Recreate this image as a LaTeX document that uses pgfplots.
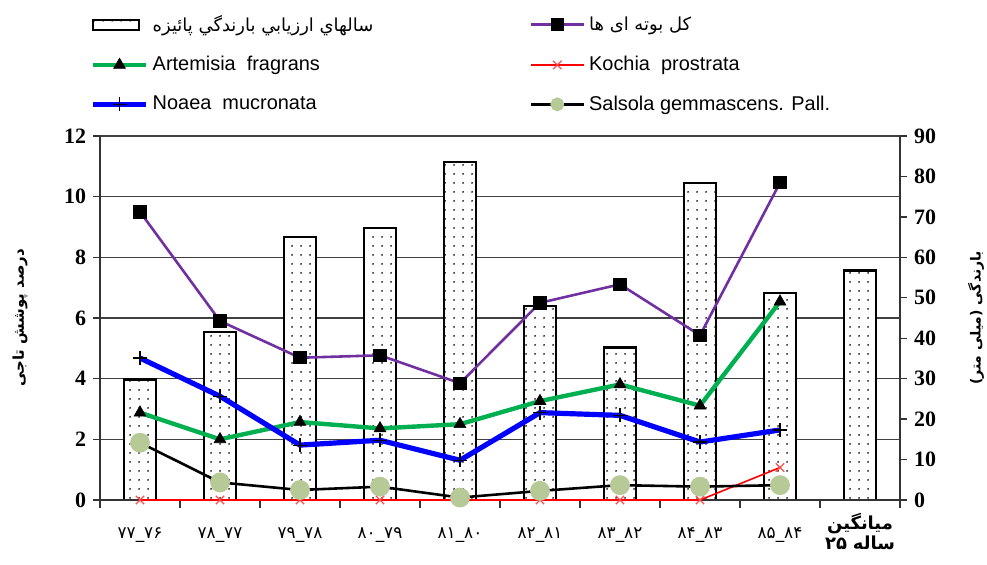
\documentclass[border=0pt]{standalone}
\usepackage{fontspec}
\setmainfont{Liberation Serif}
\setsansfont{Liberation Sans}
\newfontfamily\arabicfont[Script=Arabic]{DejaVu Sans}
\TeXXeTstate=1
\usepackage{pgfplots}
\pgfplotsset{compat=1.18}
\usetikzlibrary{patterns.meta}
\pgfdeclarepattern{
  name=sparsedots,
  type=uncolored,
  bottom left={\pgfpoint{0pt}{0pt}},
  top right={\pgfpoint{4.5bp}{4.5bp}},
  tile size={\pgfpoint{4.5bp}{4.5bp}},
  code={\pgfpathcircle{\pgfpoint{2.25bp}{2.25bp}}{0.5bp}\pgfusepath{fill}}
}
\definecolor{cpurple}{RGB}{112,48,160}
\definecolor{cgreen}{RGB}{0,176,80}
\definecolor{cred}{RGB}{255,0,0}
\definecolor{cblue}{RGB}{0,0,255}
\definecolor{csage}{RGB}{183,201,150}
\begin{document}
\begin{tikzpicture}
% ---------- bars (right axis) ----------
\begin{axis}[
  name=bars,
  scale only axis, width=400bp, height=182bp,
  xmin=0, xmax=10, ymin=0, ymax=90,
  axis x line=none, axis y line*=right,
  axis line style={line width=0.8pt, black!80},
  ytick={0,10,...,90},
  yticklabel style={font=\bfseries\fontsize{11}{12}\selectfont},
  /pgf/number format/assume math mode=true,
  tick align=outside, major tick length=3.5bp,
  tick style={black!80, line width=0.7pt},
  extra y ticks={15,30,45,60,75,90},
  extra y tick labels={},
  extra y tick style={grid=major, major tick length=0pt},
  grid style={black!75, line width=0.7pt},
  ylabel={\arabicfont\bfseries\fontsize{7}{8}\selectfont\beginR بارندگی (میلی متر)\endR},
  ylabel style={at={(axis description cs:1.095,0.5)}, anchor=center, rotate=0},
  clip=false,
]
\addplot[ybar, bar width=16bp, draw=black, line width=1.2pt, fill=white,
  postaction={pattern=sparsedots}] coordinates {
  (0.5,29.8) (1.5,41.5) (2.5,65.0) (3.5,67.3) (4.5,83.6)
  (5.5,47.9) (6.5,37.7) (7.5,78.4) (8.5,51.2) (9.5,56.7)};
\end{axis}
% ---------- lines (left axis) ----------
\begin{axis}[
  name=main,
  scale only axis, width=400bp, height=182bp,
  xmin=0, xmax=10, ymin=0, ymax=12,
  axis x line*=bottom, axis y line*=left,
  axis line style={line width=0.8pt, black!80},
  ytick={0,2,...,12},
  yticklabel style={font=\bfseries\fontsize{11}{12}\selectfont},
  /pgf/number format/assume math mode=true,
  xtick={0.5,1.5,...,8.5},
  xticklabels={۷۶\_۷۷,۷۷\_۷۸,۷۸\_۷۹,۷۹\_۸۰,۸۰\_۸۱,۸۱\_۸۲,۸۲\_۸۳,۸۳\_۸۴,۸۴\_۸۵},
  xticklabel style={font=\arabicfont\fontsize{8.5}{10}\selectfont, align=center, anchor=north, yshift=-7bp},
  extra x ticks={9.5},
  extra x tick labels={{\bfseries\fontsize{9}{11}\selectfont\beginR میانگین\endR\\ \bfseries\fontsize{9}{11}\selectfont\hbox{۲۵}\hspace{3bp}\hbox{\beginR ساله\endR}}},
  extra x tick style={major tick length=0pt, xticklabel style={yshift=4bp}},
  minor xtick={0,1,...,10},
  tick align=outside,
  major x tick style={draw=none},
  major tick length=3.5bp, minor tick length=4bp,
  tick style={black!80, line width=0.7pt},
  ylabel={\arabicfont\bfseries\fontsize{7.5}{9}\selectfont\beginR درصد پوشش تاجی\endR},
  ylabel style={at={(axis description cs:-0.1,0.5)}, anchor=center},
  clip=false,
  legend columns=2,
  legend cell align=left,
  legend style={at={(axis description cs:-0.02,1.04)}, anchor=south west,
    draw=none, fill=none, font=\sffamily\fontsize{10}{12}\selectfont,
    row sep=7bp, /tikz/column 2/.style={column sep=76bp}},
  legend image code/.code={\draw[mark repeat=2,mark phase=2,#1] plot coordinates {(0bp,0bp) (13.3bp,0bp) (26.6bp,0bp)};},
]
\addlegendimage{legend image code/.code={\draw[black, line width=1.2pt, fill=white, postaction={pattern=sparsedots}] (0bp,-2.5bp) rectangle (23bp,2.5bp);}}
\addlegendentry{\arabicfont\fontsize{9}{11}\selectfont\beginR سالهاي ارزيابي بارندگي پائيزه\endR}
% total
\addplot[cpurple, line width=1.3pt, mark=square*, mark size=2.7bp,
  mark options={fill=black, draw=black, solid}] coordinates {
  (0.5,9.50) (1.5,5.90) (2.5,4.69) (3.5,4.77) (4.5,3.85)
  (5.5,6.50) (6.5,7.11) (7.5,5.43) (8.5,10.46)};
\addlegendentry{\arabicfont\fontsize{9}{11}\selectfont\beginR کل بوته ای ها\endR}
% Artemisia
\addplot[cgreen, line width=2.2pt, mark=triangle*, mark size=3.4bp,
  mark options={fill=black, draw=black, line width=0.3pt}] coordinates {
  (0.5,2.88) (1.5,2.00) (2.5,2.57) (3.5,2.36) (4.5,2.50)
  (5.5,3.26) (6.5,3.81) (7.5,3.11) (8.5,6.54)};
\addlegendentry{Artemisia~~fragrans}
% Kochia
\addplot[cred, line width=0.8pt, mark=x, mark size=3bp,
  mark options={cred!70, line width=0.6pt}] coordinates {
  (0.5,0) (1.5,0) (2.5,0) (3.5,0) (4.5,0)
  (5.5,0) (6.5,0) (7.5,0) (8.5,1.07)};
\addlegendentry{Kochia~~prostrata}
% Noaea
\addplot[cblue, line width=2.6pt, mark=+, mark size=3.5bp,
  mark options={black, line width=0.6pt}] coordinates {
  (0.5,4.68) (1.5,3.42) (2.5,1.81) (3.5,1.97) (4.5,1.31)
  (5.5,2.88) (6.5,2.79) (7.5,1.91) (8.5,2.31)};
\addlegendentry{Noaea~~mucronata}
% Salsola
\addplot[black, line width=1.3pt, mark=*, mark size=4.3bp,
  mark options={fill=csage, draw=csage},
  legend image code/.code={\draw[black, line width=1.3pt] (0bp,0bp) -- (26.6bp,0bp); \fill[csage] (13.3bp,0bp) circle (2.8bp);}] coordinates {
  (0.5,1.89) (1.5,0.58) (2.5,0.33) (3.5,0.44) (4.5,0.08)
  (5.5,0.30) (6.5,0.49) (7.5,0.44) (8.5,0.49)};
\addlegendentry{Salsola gemmascens. Pall.}
\end{axis}
\pgfresetboundingbox
\path[use as bounding box] ([xshift=-50bp,yshift=-32.5bp]main.south west) rectangle ([xshift=43.5bp,yshift=68bp]main.north east);
\end{tikzpicture}
\end{document}
